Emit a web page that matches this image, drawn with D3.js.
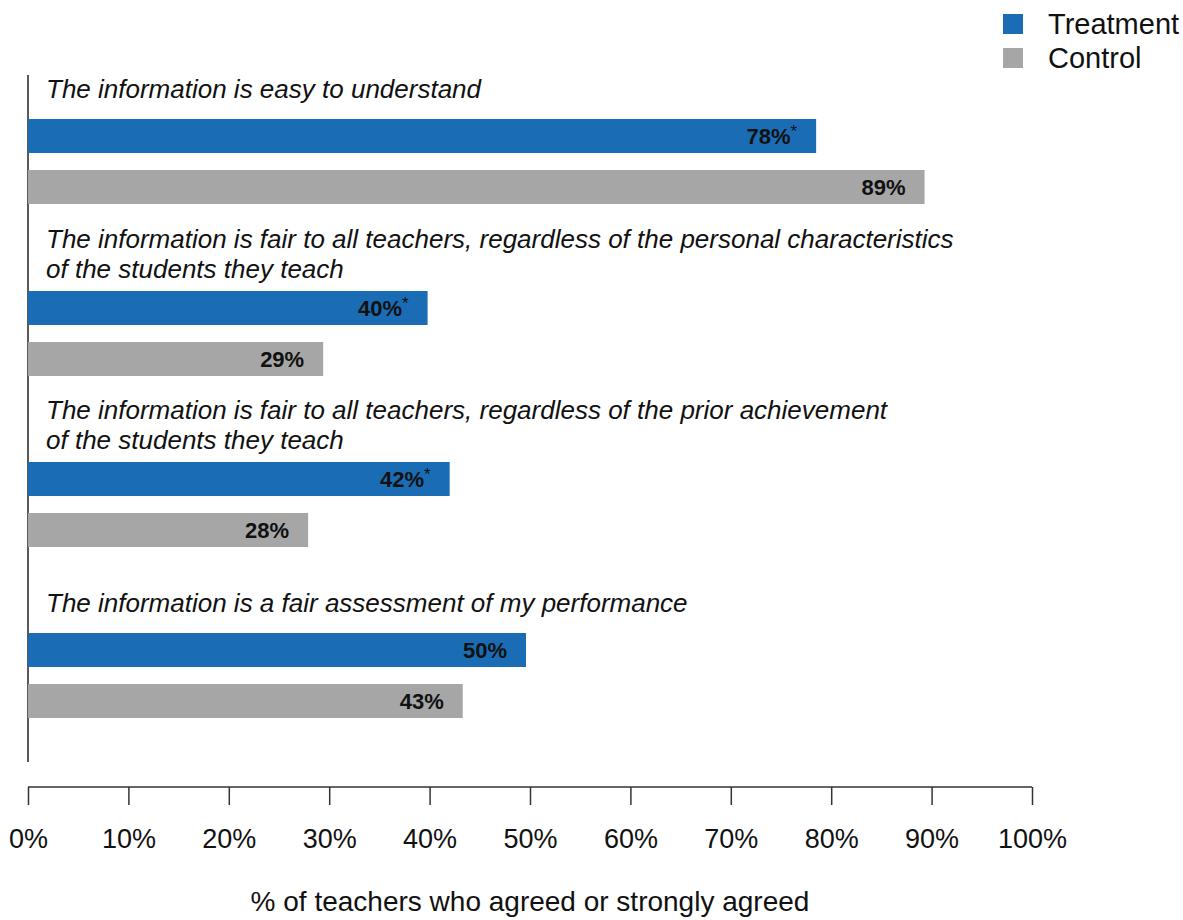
<!DOCTYPE html>
<html><head><meta charset="utf-8">
<script src="https://cdn.jsdelivr.net/npm/d3@7"></script>
<style>body{margin:0;background:#fff}svg{display:block;font-family:"Liberation Sans",Arial,sans-serif}</style>
</head><body><svg id="c" width="1183" height="920"></svg>
<script>
const categories = [
  ["The information is easy to understand"],
  ["The information is fair to all teachers, regardless of the personal characteristics", "of the students they teach"],
  ["The information is fair to all teachers, regardless of the prior achievement", "of the students they teach"],
  ["The information is a fair assessment of my performance"]
];
const treatment = [78.5, 39.8, 42.0, 49.6];
const control = [89.3, 29.4, 27.9, 43.3];
const treatmentLabels = ["78%", "40%", "42%", "50%"];
const controlLabels = ["89%", "29%", "28%", "43%"];
const treatmentSig = [true, true, true, false];
const seriesNames = ["Treatment", "Control"];
const colors = ["#1a6db5", "#a6a6a6"];
const tickValues = [0,10,20,30,40,50,60,70,80,90,100];

const svg = d3.select("#c");
const x = d3.scaleLinear().domain([0,100]).range([28,1032]);
const groupTop = [119, 291, 462, 633];
const barH = 34, gap = 51;

// vertical axis line
svg.append("line").attr("x1",28).attr("x2",28).attr("y1",75).attr("y2",762).attr("stroke","#222").attr("stroke-width",1.5);

categories.forEach((lines,i)=>{
  const top = groupTop[i];
  const g = svg.append("g");
  const nl = lines.length;
  const lastBase = nl > 1 ? top - 13 : top - 21;
  lines.forEach((t,j)=>{
    g.append("text").attr("x",46).attr("y", lastBase - (nl-1-j)*30)
      .attr("font-size",26).attr("font-style","italic").attr("fill","#111").text(t);
  });
  const rows = [
    {v:treatment[i], lab:treatmentLabels[i], sig:treatmentSig[i], c:colors[0], yy:top},
    {v:control[i], lab:controlLabels[i], sig:false, c:colors[1], yy:top+gap}
  ];
  rows.forEach(r=>{
    g.append("rect").attr("x",x(0)).attr("y",r.yy).attr("width",x(r.v)-x(0)).attr("height",barH).attr("fill",r.c);
    const tx = g.append("text").attr("x",x(r.v)-19).attr("y",r.yy+barH/2+8)
      .attr("text-anchor","end").attr("font-size",22).attr("font-weight","bold").attr("fill","#111");
    tx.append("tspan").text(r.lab);
    if(r.sig) tx.append("tspan").attr("font-size",17).attr("dy",-7).attr("font-weight","normal").text("*");
  });
});

// x axis
const axis = d3.axisBottom(x).tickValues(tickValues).tickSize(18).tickFormat(d=>d+"%");
const ag = svg.append("g").attr("transform","translate(0,787)").call(axis);
ag.select(".domain").attr("stroke","#333").attr("stroke-width",1.5).attr("d","M28,0H1032");
ag.selectAll(".tick line").attr("stroke","#333").attr("stroke-width",1.5);
ag.selectAll(".tick text").attr("font-size",27).attr("fill","#111").attr("y",61).attr("dy",0).attr("font-family","Liberation Sans, Arial, sans-serif");

svg.append("text").attr("x",530).attr("y",911).attr("text-anchor","middle").attr("font-size",28).attr("fill","#111").text("% of teachers who agreed or strongly agreed");

// legend
seriesNames.forEach((n,i)=>{
  svg.append("rect").attr("x",1003).attr("y",14+i*34).attr("width",20).attr("height",20).attr("fill",colors[i]);
  svg.append("text").attr("x",1048).attr("y",34+i*34).attr("font-size",29).attr("fill","#111").text(n);
});
</script></body></html>
